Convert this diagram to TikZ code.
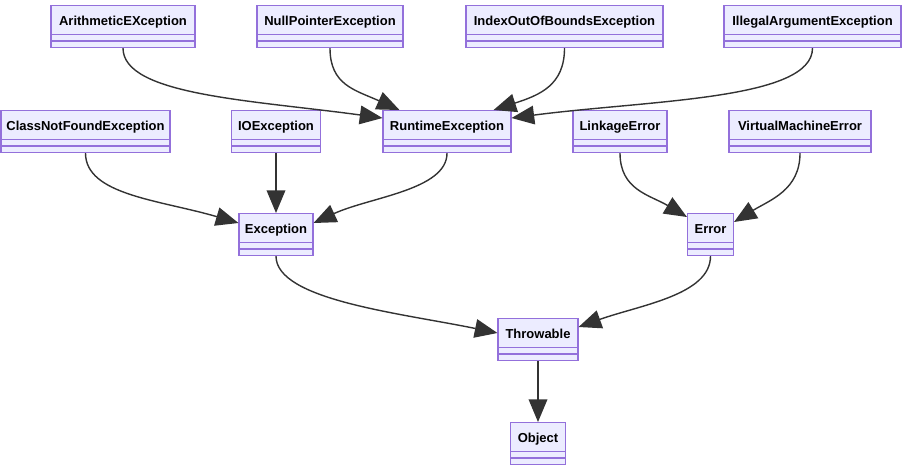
\documentclass[tikz,border=0pt]{standalone}
\usepackage{fontspec}
\setmainfont{Liberation Sans}
\usetikzlibrary{arrows.meta,calc}
\definecolor{clsfill}{HTML}{ECECFF}
\definecolor{clsborder}{HTML}{9370DB}
\definecolor{edgecol}{HTML}{333333}
\tikzset{
  cls/.style={draw=clsborder, fill=clsfill, line width=0.8pt, rectangle, anchor=north,
    inner xsep=0pt, inner ysep=0pt, text height=15pt, text depth=16.5pt,
    font=\fontsize{9.75}{11}\selectfont\bfseries, text=black,
    minimum width=0.75pt*#1,
    path picture={
      \draw[clsborder, line width=0.8pt]
        ([yshift=9.75pt]path picture bounding box.south west) -- ([yshift=9.75pt]path picture bounding box.south east);
      \draw[clsborder, line width=0.8pt]
        ([yshift=4.9pt]path picture bounding box.south west) -- ([yshift=4.9pt]path picture bounding box.south east);
    }},
  inherit/.style={draw=edgecol, line width=1.05pt, -{Triangle[length=17pt,width=14pt]}, color=edgecol}
}
\begin{document}
\begin{tikzpicture}[x=0.75pt, y=-0.75pt]
\useasboundingbox (0,0) rectangle (905,468);
% row 1
\node[cls=144] (ae) at (123,5) {ArithmeticEXception};
\node[cls=146] (np) at (330,5) {NullPointerException};
\node[cls=197] (io) at (564.5,5) {IndexOutOfBoundsException};
\node[cls=177] (ia) at (812.5,5) {IllegalArgumentException};
% row 2
\node[cls=169] (cnf) at (85.5,110) {ClassNotFoundException};
\node[cls=89] (ioe) at (276,110) {IOException};
\node[cls=128] (rt) at (447,110) {RuntimeException};
\node[cls=94] (le) at (620,110) {LinkageError};
\node[cls=142] (vme) at (800,110) {VirtualMachineError};
% row 3
\node[cls=74] (ex) at (276,213) {Exception};
\node[cls=46] (er) at (710.5,213) {Error};
% row 4
\node[cls=80] (th) at (538,318) {Throwable};
% row 5
\node[cls=55] (ob) at (538,422) {Object};
% edges
\draw[inherit] (ae.south) .. controls (123,95) and (250,100) .. ($(rt.north west)+(0,8)$);
\draw[inherit] (np.south) .. controls (330,85) and (355,90) .. ($(rt.north west)+(17,0)$);
\draw[inherit] (io.south) .. controls (564.5,85) and (540,95) .. ($(rt.north east)+(-18,0)$);
\draw[inherit] (ia.south) .. controls (812.5,100) and (650,100) .. ($(rt.north east)+(0,8)$);
\draw[inherit] (cnf.south) .. controls (85.5,195) and (160,200) .. ($(ex.north west)+(0,10)$);
\draw[inherit] (ioe.south) -- (ex.north);
\draw[inherit] (rt.south) .. controls (447,190) and (370,197) .. ($(ex.north east)+(0,10)$);
\draw[inherit] (le.south) .. controls (620,190) and (650,195) .. ($(er.north west)+(0,4)$);
\draw[inherit] (vme.south) .. controls (800,190) and (770,200) .. ($(er.north east)+(0,9)$);
\draw[inherit] (ex.south) .. controls (276,300) and (400,313) .. ($(th.north west)+(0,15)$);
\draw[inherit] (er.south) .. controls (710.5,295) and (640,305) .. ($(th.north east)+(0,9)$);
\draw[inherit] (th.south) -- (ob.north);
\end{tikzpicture}
\end{document}
